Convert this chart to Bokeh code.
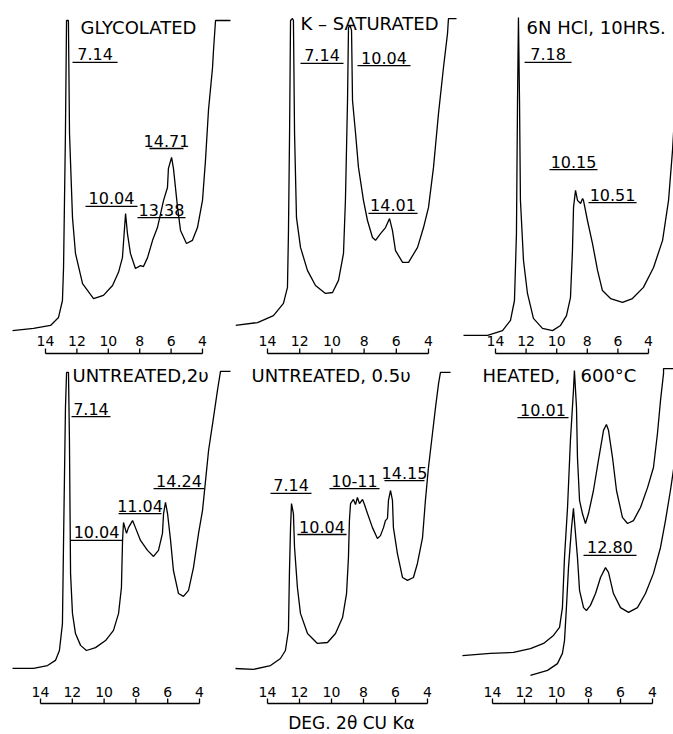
from bokeh.plotting import figure
from bokeh.models import Range1d
from bokeh.layouts import gridplot
from bokeh.core.properties import value
from bokeh.embed import file_html
from bokeh.resources import INLINE

FONT = value("DejaVu Sans")

# ---------------- data (2-theta degrees, relative intensity) ----------------
ticks = [14, 12, 10, 8, 6, 4]
tick_labels = ["14", "12", "10", "8", "6", "4"]

glyc_2theta = [16.10, 14.76, 13.68, 13.17, 12.92, 12.85, 12.73, 12.66, 12.54, 12.47, 12.28, 12.09, 11.64, 10.94, 10.31,
               9.73, 9.35, 9.10, 8.90, 8.78, 8.59, 8.27, 7.95, 7.76, 7.50, 7.18, 6.87, 6.74, 6.48, 6.23, 6.17, 5.97,
               5.85, 5.59, 5.40, 5.02, 4.64, 4.32, 4.00, 3.81, 3.62, 3.36, 3.30, 3.17, 2.22]
glyc_int = [3.1, 3.8, 4.7, 7.2, 12.5, 22.8, 64.7, 100, 100, 64.7, 38.4, 27.2, 17.8, 13.1, 14.1, 17.2, 21.3, 25.9, 39.7,
            33.4, 27.2, 22.5, 23.4, 23.1, 25.9, 31.3, 35.3, 38.1, 43.8, 47.8, 53.8, 57.2, 53.8, 41.6, 34.4, 30.3, 31.3,
            35.3, 43.8, 56.3, 71.9, 85.3, 90.6, 100, 100]

ksat_2theta = [15.99, 14.62, 13.63, 13.01, 12.76, 12.70, 12.63, 12.57, 12.45, 12.39, 12.32, 12.20, 11.95, 11.52, 11.02,
               10.40, 9.96, 9.59, 9.28, 9.16, 9.03, 8.97, 8.88, 8.78, 8.72, 8.53, 8.35, 8.04, 7.79, 7.48, 7.29, 6.98,
               6.67, 6.42, 6.24, 6.05, 5.61, 5.24, 4.68, 4.31, 4.00, 3.69, 3.38, 3.07, 2.82, 2.76, 2.26]
ksat_int = [4.7, 5.6, 7.8, 11.6, 16.6, 33.4, 64.7, 100, 100.6, 100, 64.7, 38.4, 29.1, 21.9, 17.2, 14.7, 15.0, 18.8,
            27.2, 43.8, 75, 97.8, 98.5, 96.9, 75, 64.7, 54.1, 43.8, 37.5, 32.2, 31.3, 33.4, 35.3, 38.1, 34.4, 28.1,
            24.4, 24.4, 29.1, 35.3, 41.6, 54.1, 70.9, 85.3, 95.9, 100.6, 100.6]

hcl_2theta = [16.09, 14.52, 13.54, 13.02, 12.76, 12.63, 12.56, 12.50, 12.43, 12.37, 12.17, 11.91, 11.52, 10.93, 10.27,
              9.75, 9.36, 9.10, 8.97, 8.90, 8.77, 8.64, 8.44, 8.31, 8.25, 7.99, 7.66, 7.33, 7.01, 6.48, 5.70, 5.05,
              4.33, 3.67, 3.08, 2.69, 2.43, 2.24]
hcl_int = [1.6, 1.6, 3.1, 6.3, 12.5, 33.4, 75, 100.9, 75, 43.8, 25, 14.7, 6.9, 3.8, 3.1, 4.7, 7.8, 13.4, 28.1, 41.6,
           46.9, 43.8, 42.8, 44.4, 43.8, 37.5, 30.3, 21.9, 15.6, 13.1, 11.9, 13.1, 16.6, 22.8, 31.3, 43.8, 59.4, 75]

u2_2theta = [15.76, 14.44, 13.56, 13.06, 12.81, 12.62, 12.55, 12.43, 12.36, 12.24, 12.18, 12.11, 11.99, 11.80, 11.48,
             11.11, 10.54, 9.91, 9.41, 9.09, 8.91, 8.84, 8.78, 8.59, 8.47, 8.21, 8.03, 7.71, 7.27, 6.89, 6.58, 6.33,
             6.26, 6.14, 6.01, 5.82, 5.64, 5.32, 5.01, 4.69, 4.38, 4.06, 3.81, 3.62, 3.43, 3.12, 2.87, 2.68, 2.05]
u2_int = [6.9, 6.9, 7.8, 9.4, 12.5, 20.9, 46.9, 88.4, 99.4, 99.4, 78.1, 36.6, 24.1, 17.8, 14.1, 12.5, 13.4, 15.6, 18.8,
          24.1, 32.2, 46.9, 52.5, 49.1, 50.9, 53.1, 50.9, 46.9, 43.8, 41.9, 43.8, 49.1, 55.3, 58.8, 55.3, 46.9, 37.5,
          30.3, 29.4, 31.3, 38.4, 49.1, 56.3, 65.6, 75, 85.3, 93.8, 99.7, 99.7]

u05_2theta = [16.13, 14.88, 13.81, 13.19, 12.88, 12.69, 12.63, 12.56, 12.50, 12.38, 12.31, 12.13, 11.94, 11.50, 10.88,
              10.25, 9.75, 9.31, 9.06, 8.94, 8.88, 8.81, 8.63, 8.50, 8.38, 8.25, 8.06, 7.94, 7.75, 7.44, 7.13, 6.94,
              6.75, 6.63, 6.50, 6.44, 6.31, 6.19, 6.13, 5.88, 5.56, 5.25, 4.88, 4.63, 4.31, 4.13, 3.94, 3.69, 3.50,
              3.31, 3.19, 2.56]
u05_int = [6.9, 6.6, 7.8, 10, 12.5, 18.8, 36.6, 50.9, 58.4, 55.3, 44.7, 32.2, 24.1, 17.8, 14.7, 15, 17.8, 22.8, 30.3,
           41.6, 53.1, 58.4, 59.7, 58.1, 60.3, 58.4, 59.7, 58.1, 55.3, 50.9, 47.5, 48.4, 50.9, 53.1, 53.8, 59.4, 62.5,
           59.4, 50.9, 42.8, 35.3, 34.4, 35.3, 39.7, 47.8, 59.4, 69.7, 80.3, 88.4, 95.9, 99.4, 99.4]

heat_a_2theta = [15.88, 14.13, 12.69, 11.63, 10.81, 10.19, 9.81, 9.63, 9.50, 9.31, 9.13, 8.94, 8.88, 8.75, 8.69, 8.56,
                 8.38, 8.19, 8.00, 7.69, 7.38, 7.06, 6.88, 6.75, 6.50, 6.25, 5.88, 5.56, 5.19, 4.75, 4.31, 3.94, 3.69,
                 3.50, 3.31, 3.31, 2.69]
heat_a_int = [10.9, 11.6, 11.9, 13.1, 14.7, 17.2, 19.7, 25.9, 41.6, 57.2, 78.1, 93.8, 100, 88.4, 72.8, 59.4, 55.3,
              52.2, 55.3, 62.5, 71.9, 81.3, 83.1, 81.3, 72.8, 62.5, 54.1, 52.2, 53.1, 57.2, 63.4, 69.7, 80.3, 90.6,
              99.1, 100.6, 100.6]

heat_b_2theta = [11.63, 10.56, 9.94, 9.63, 9.50, 9.38, 9.25, 9.06, 8.94, 8.88, 8.69, 8.56, 8.31, 8.13, 7.88, 7.56,
                 7.25, 6.94, 6.75, 6.44, 6.00, 5.50, 4.94, 4.44, 3.94, 3.50, 3.19, 2.88, 2.56]
heat_b_int = [4.7, 6.3, 8.4, 11.6, 15.6, 25.9, 38.4, 50.9, 56.9, 53.1, 41.6, 31.3, 25.9, 25, 26.6, 30.3, 35.3, 38.4,
              36.9, 30.3, 25.9, 24.4, 25.9, 30.3, 36.6, 44.7, 53.1, 62.5, 73.4]

# peak labels (d-spacing, Angstrom)
glyc_peaks = ["7.14", "10.04", "13.38", "14.71"]
ksat_peaks = ["7.14", "10.04", "14.01"]
hcl_peaks = ["7.18", "10.15", "10.51"]
u2_peaks = ["7.14", "10.04", "11.04", "14.24"]
u05_peaks = ["7.14", "10.04", "10-11", "14.15"]
heat_peaks = ["10.01", "12.80"]

titles = ["GLYCOLATED", "K – SATURATED", "6N HCl, 10HRS.", "UNTREATED,2υ", "UNTREATED, 0.5υ", "HEATED,", "600°C"]
x_title = "DEG. 2θ CU Kα"

# ---------------- layout (placement only) ----------------
# underline spans (x0, x1 in 2-theta) and level (intensity units)
glyc_pos = [(12.28, 9.41, 86.9), (11.45, 8.14, 41.9), (8.14, 5.08, 38.4), (7.38, 5.21, 60.0)]
ksat_pos = [(11.95, 9.28, 86.6), (8.41, 5.12, 85.9), (7.73, 4.68, 39.7)]
hcl_pos = [(12.10, 9.03, 86.9), (10.47, 7.33, 53.4), (7.92, 4.78, 43.1)]
u2_pos = [(12.05, 9.60, 85.6), (12.11, 8.84, 46.9), (9.09, 6.39, 55.3), (6.89, 3.69, 63.1)]
u05_pos = [(13.81, 11.25, 61.6), (12.13, 9.06, 48.75), (10.13, 7.0, 63.1), (6.69, 4.19, 65.6)]
heat_pos = [(12.44, 9.25, 85.3), (8.31, 5.0, 42.2)]

LW = 1.3


def make_panel(w, h, xr, yr):
    p = figure(width=w, height=h, x_range=Range1d(*xr), y_range=Range1d(*yr),
               output_backend="svg", toolbar_location=None, min_border=0,
               x_axis_location=None, y_axis_location=None,
               outline_line_color=None, background_fill_color="white",
               border_fill_color="white")
    p.xgrid.visible = False
    p.ygrid.visible = False
    return p


def add_title(p, text, x, y):
    p.text(x=[x], y=[y], text=[text], text_font=FONT, text_font_size="18px",
           text_align="left", text_baseline="middle", text_color="black")


def add_labels(p, names, pos):
    x0 = [a for a, b, c in pos]
    x1 = [b for a, b, c in pos]
    yy = [c for a, b, c in pos]
    p.segment(x0=x0, y0=yy, x1=x1, y1=yy, line_color="black", line_width=LW)
    p.text(x=[(a + b) / 2 for a, b in zip(x0, x1)], y=yy, text=names, text_font=FONT,
           text_font_size="16px", text_align="center", text_baseline="bottom",
           y_offset=-2, text_color="black")


def add_axis(p, base, top, num):
    p.segment(x0=[ticks[0]], y0=[base], x1=[ticks[-1]], y1=[base], line_color="black", line_width=LW)
    p.segment(x0=ticks, y0=[base] * len(ticks), x1=ticks, y1=[top] * len(ticks),
              line_color="black", line_width=LW)
    p.text(x=ticks, y=[num] * len(ticks), text=tick_labels, text_font=FONT, text_font_size="14px",
           text_align="center", text_baseline="middle", text_color="black")


ROW1_Y = (-6.875, 106.25)
ROW2_Y = (-13.75, 102.5)

p1 = make_panel(235, 362, (16.866, 1.898), ROW1_Y)
p1.line(glyc_2theta, glyc_int, line_color="black", line_width=LW)
add_title(p1, titles[0], 11.77, 97.8)
add_labels(p1, glyc_peaks, glyc_pos)
add_axis(p1, -4.06, -2.5, -0.3)

p2 = make_panel(223, 362, (15.988, 2.137), ROW1_Y)
p2.line(ksat_2theta, ksat_int, line_color="black", line_width=LW)
add_title(p2, titles[1], 11.95, 99.1)
add_labels(p2, ksat_peaks, ksat_pos)
add_axis(p2, -4.06, -2.5, -0.3)

p3 = make_panel(215, 362, (16.418, 2.366), ROW1_Y)
p3.line(hcl_2theta, hcl_int, line_color="black", line_width=LW)
add_title(p3, titles[2], 11.97, 97.8)
add_labels(p3, hcl_peaks, hcl_pos)
add_axis(p3, -4.06, -2.5, -0.3)

p4 = make_panel(235, 372, (16.516, 1.736), ROW2_Y)
p4.line(u2_2theta, u2_int, line_color="black", line_width=LW)
add_title(p4, titles[3], 11.99, 98.4)
add_labels(p4, u2_peaks, u2_pos)
add_axis(p4, -4.06, -2.5, -0.6)

p5 = make_panel(223, 372, (16.0, 2.0625), ROW2_Y)
p5.line(u05_2theta, u05_int, line_color="black", line_width=LW)
add_title(p5, titles[4], 15.0, 98.4)
add_labels(p5, u05_peaks, u05_pos)
add_axis(p5, -4.06, -2.5, -0.6)
p5.text(x=[8.75], y=[-10.0], text=[x_title], text_font=FONT, text_font_size="17px",
        text_align="center", text_baseline="middle", text_color="black")

p6 = make_panel(215, 372, (16.125, 2.6875), ROW2_Y)
p6.line(heat_a_2theta, heat_a_int, line_color="black", line_width=LW)
p6.line(heat_b_2theta, heat_b_int, line_color="black", line_width=LW)
add_title(p6, titles[5], 14.63, 98.4)
add_title(p6, titles[6], 8.5, 98.4)
add_labels(p6, heat_peaks, heat_pos)
add_axis(p6, -4.06, -2.5, -0.6)

grid = gridplot([[p1, p2, p3], [p4, p5, p6]], toolbar_location=None)

open("out.html", "w").write(file_html(grid, INLINE))
